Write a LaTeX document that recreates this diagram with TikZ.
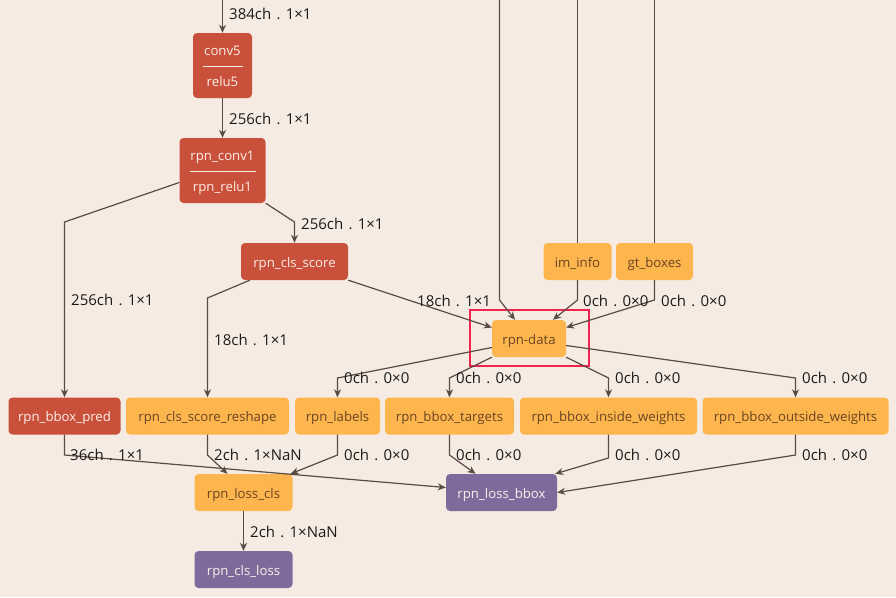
\documentclass[tikz,border=0pt]{standalone}
\usepackage{fontspec}
\setmainfont{Open Sans}
\usetikzlibrary{arrows.meta,calc}
\definecolor{bgc}{HTML}{F6EBE2}
\definecolor{redc}{HTML}{C9503A}
\definecolor{yelc}{HTML}{FDB64E}
\definecolor{purc}{HTML}{7F6A9C}
\definecolor{edgec}{HTML}{5A4A42}
\definecolor{hic}{HTML}{F0224F}
\definecolor{ytext}{HTML}{6B4423}
\definecolor{rtext}{HTML}{FBEFE8}
\definecolor{labc}{HTML}{1A1A1A}
\newcommand{\nodefont}{\fontsize{13.2}{15}\selectfont}
\newcommand{\labfont}{\fontsize{15}{17}\selectfont}
\newcommand{\lab}[2]{#1ch\hspace{0.35em}.\hspace{0.35em}#2}
\tikzset{
  box/.style={rounded corners=4pt, minimum height=37pt, inner sep=0pt, font=\nodefont, text height=14pt, text depth=3pt},
  rednode/.style={box, fill=redc, text=rtext},
  yelnode/.style={box, fill=yelc, text=ytext},
  purnode/.style={box, fill=purc, text=rtext},
  intext/.style={font=\nodefont, text=rtext, inner sep=0pt, text height=14pt, text depth=3pt},
  elabel/.style={anchor=west, font=\labfont, text=labc, inner sep=0pt},
  conn/.style={draw=edgec, line width=1.2pt, -{Stealth[length=8pt,width=7pt,inset=2.5pt]}},
  plainconn/.style={draw=edgec, line width=1.2pt},
}
\begin{document}
\begin{tikzpicture}[x=1pt,y=-1pt]
\fill[bgc] (0,0) rectangle (896,597);
\useasboundingbox (0,0) rectangle (896,597);
% free ends
\coordinate (top1) at (222.5,0);
\coordinate (top2) at (499.5,0);
\coordinate (top3) at (577.5,0);
\coordinate (top4) at (654.5,0);
% nodes
\node[rednode, minimum width=59pt, minimum height=65pt] (conv5) at (222.5,65.5) {};
\node[intext] (conv5a) at (222.5,50) {conv5};
\node[intext] (conv5b) at (222.5,81) {relu5};
\draw[rtext, line width=0.6pt] (203,66) -- (243,66);
\node[rednode, minimum width=86pt, minimum height=65pt] (rpnconv1) at (222.5,170.5) {};
\node[intext] (rpnconv1a) at (222.5,155) {rpn\_conv1};
\node[intext] (rpnconv1b) at (222.5,186) {rpn\_relu1};
\draw[rtext, line width=0.6pt] (190,171) -- (256,171);
\node[rednode, minimum width=107pt] (clsscore) at (294.5,261.5) {rpn\_cls\_score};
\node[yelnode, minimum width=68pt] (iminfo) at (577.5,261.5) {im\_info};
\node[yelnode, minimum width=77pt] (gtboxes) at (654.5,261.5) {gt\_boxes};
\node[yelnode, minimum width=74pt] (rpndata) at (529,338.5) {rpn-data};
\node[draw=hic, line width=2pt, minimum width=119pt, minimum height=56pt, inner sep=0pt] (hibox) at (529.5,338) {};
\node[rednode, minimum width=112pt] (bboxpred) at (64.5,416) {rpn\_bbox\_pred};
\node[yelnode, minimum width=163pt] (reshape) at (207.5,416) {rpn\_cls\_score\_reshape};
\node[yelnode, minimum width=85pt] (labels) at (337.5,416) {rpn\_labels};
\node[yelnode, minimum width=129pt] (targets) at (449.5,416) {rpn\_bbox\_targets};
\node[yelnode, minimum width=177pt] (inside) at (608.5,416) {rpn\_bbox\_inside\_weights};
\node[yelnode, minimum width=186pt] (outside) at (795.5,416) {rpn\_bbox\_outside\_weights};
\node[yelnode, minimum width=98pt] (losscls) at (243.5,492.5) {rpn\_loss\_cls};
\node[purnode, minimum width=111pt] (lossbbox) at (501.5,492.5) {rpn\_loss\_bbox};
\node[purnode, minimum width=98pt] (clsloss) at (243.5,569.5) {rpn\_cls\_loss};
% connectors
\draw[conn] (top1) -- (conv5.north);
\draw[conn] (conv5.south) -- (rpnconv1.north);
\draw[conn] (rpnconv1.south east) -- (clsscore.north |- 0,222) -- (clsscore.north);
\draw[conn] ($(rpnconv1.west)+(0,12)$) -- (bboxpred.north |- 0,222) -- (bboxpred.north);
\draw[conn] ($(clsscore.south west)+(9,0)$) -- (reshape.north |- 0,298) -- (reshape.north);
\draw[conn] (clsscore.south east) -- ($(rpndata.west)+(0,-11)$);
\draw[conn] (top2) -- (499.5,300) -- ($(rpndata.north)+(-14,0)$);
\draw[plainconn] (top3) -- (iminfo.north);
\draw[plainconn] (top4) -- (gtboxes.north);
\draw[conn] (iminfo.south) -- (577.5,300) -- ($(rpndata.north)+(24,0)$);
\draw[conn] (gtboxes.south) -- (654.5,300) -- ($(rpndata.east)+(0,-11)$);
\draw[conn] ($(rpndata.west)+(0,9)$) -- (labels.north |- 0,378) -- (labels.north);
\draw[conn] (rpndata.south west) -- (targets.north |- 0,378) -- (targets.north);
\draw[conn] (rpndata.south east) -- (inside.north |- 0,378) -- (inside.north);
\draw[conn] ($(rpndata.east)+(0,7)$) -- (outside.north |- 0,378) -- (outside.north);
\draw[conn] (bboxpred.south) -- (64.5,455) -- ($(lossbbox.west)+(0,-5)$);
\draw[conn] (reshape.south) -- (207.5,455) -- ($(losscls.north)+(-16,0)$);
\draw[conn] (labels.south) -- (337.5,455) -- ($(losscls.north east)+(-2,0)$);
\draw[conn] (targets.south) -- (449.5,455) -- ($(lossbbox.north)+(-26,0)$);
\draw[conn] (inside.south) -- (608.5,458) -- ($(lossbbox.north east)+(-2,0)$);
\draw[conn] (outside.south) -- (795.5,455) -- (lossbbox.east);
\draw[conn] (losscls.south) -- (clsloss.north);
% labels
\node[elabel] (l1) at (229,14) {\lab{384}{1×1}};
\node[elabel] (l2) at (229,119) {\lab{256}{1×1}};
\node[elabel] (l3) at (301,224) {\lab{256}{1×1}};
\node[elabel] (l4) at (71,300) {\lab{256}{1×1}};
\node[elabel] (l5) at (214,340) {\lab{18}{1×1}};
\node[elabel] (l6) at (417,301) {\lab{18}{1×1}};
\node[elabel] (l7) at (583,301) {\lab{0}{0×0}};
\node[elabel] (l8) at (661,301) {\lab{0}{0×0}};
\node[elabel] (l9) at (344,378) {\lab{0}{0×0}};
\node[elabel] (l10) at (456,378) {\lab{0}{0×0}};
\node[elabel] (l11) at (615,378) {\lab{0}{0×0}};
\node[elabel] (l12) at (802,378) {\lab{0}{0×0}};
\node[elabel] (l13) at (70,455) {\lab{36}{1×1}};
\node[elabel] (l14) at (214,455) {\lab{2}{1×NaN}};
\node[elabel] (l15) at (344,455) {\lab{0}{0×0}};
\node[elabel] (l16) at (456,455) {\lab{0}{0×0}};
\node[elabel] (l17) at (615,455) {\lab{0}{0×0}};
\node[elabel] (l18) at (802,455) {\lab{0}{0×0}};
\node[elabel] (l19) at (250,532) {\lab{2}{1×NaN}};
\end{tikzpicture}
\end{document}
